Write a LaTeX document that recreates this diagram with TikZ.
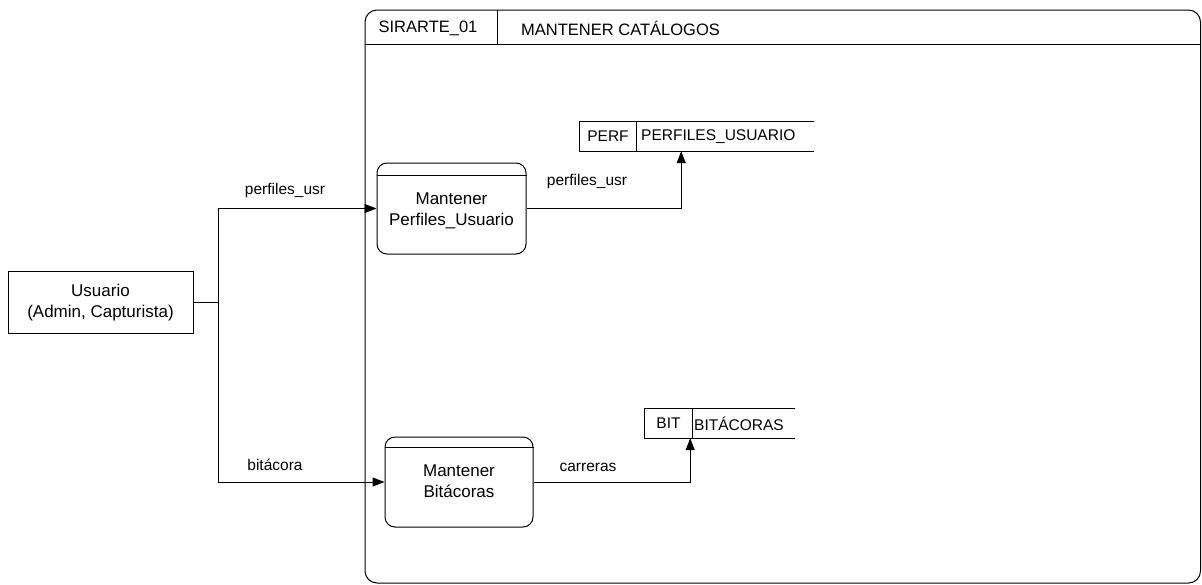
\documentclass[tikz,border=0pt]{standalone}
\usepackage{fontspec}
\setmainfont{Liberation Sans}
\usetikzlibrary{arrows.meta, calc}
\tikzset{
    proc/.style={draw, rounded corners=10pt, line width=1pt, inner sep=0pt},
    boxtxt/.style={align=center, font=\fontsize{17}{21}\selectfont, inner sep=0pt},
    lbl/.style={font=\fontsize{15.5}{18}\selectfont, inner sep=0pt},
    storeid/.style={minimum width=#1, minimum height=29pt, inner sep=0pt,
        font=\fontsize{15.5}{18}\selectfont},
    storename/.style={anchor=west, minimum height=29pt, text width=#1, inner sep=0pt,
        align=left, font=\fontsize{15.5}{18}\selectfont},
    flow/.style={line width=1pt, -{Triangle[length=12pt,width=9pt]}},
    wire/.style={line width=1pt}
}

\begin{document}
\begin{tikzpicture}[
    x={(1pt,0pt)},
    y={(0pt,-1pt)}
]
\useasboundingbox (0,0) rectangle (1202,584);

% --- Rahmen SIRARTE_01 ---
\draw[line width=1pt, rounded corners=12pt] (365,10) rectangle (1200.5,583);
\draw[wire] (365,44) -- (1200.5,44);
\draw[wire] (497,10) -- (497,44);
\node[lbl, font=\fontsize{16.5}{19}\selectfont] (hid) at (428,28) {SIRARTE\_01};
\node[lbl, font=\fontsize{16.5}{19}\selectfont, anchor=west] (htitle) at (521,28) {MANTENER CATÁLOGOS};

% --- Externe Entitaet ---
\node[draw, wire, minimum width=185pt, minimum height=62pt, boxtxt] (usr) at (100.5,302.5)
    {Usuario\\(Admin, Capturista)};

% --- Prozesse ---
\node[proc, minimum width=149pt, minimum height=91pt] (pperf) at (451.5,208.5) {};
\draw[wire] ($(pperf.north west)+(0,13)$) -- ($(pperf.north east)+(0,13)$);
\node[boxtxt] (pperft) at (451.5,211) {Mantener\\Perfiles\_Usuario};

\node[proc, minimum width=148pt, minimum height=90pt] (pbit) at (459,482) {};
\draw[wire] ($(pbit.north west)+(0,11)$) -- ($(pbit.north east)+(0,11)$);
\node[boxtxt] (pbitt) at (459,481) {Mantener\\Bitácoras};

% --- Datenspeicher ---
\node[storeid=56pt] (perfid) at (608,136.5) {PERF};
\node[storename=173pt] (perfname) at (641,136.5) {PERFILES\_USUARIO};
\draw[wire] (perfname.north east |- perfid.north) -- (perfid.north west)
    -- (perfid.south west) -- (perfname.south east |- perfid.south);
\draw[wire] (perfid.north east) -- (perfid.south east);

\node[storeid=47pt] (bitid) at (668.5,423.5) {BIT};
\node[storename=101pt] (bitname) at (694,423.5) {BITÁCORAS};
\draw[wire] (bitname.north east |- bitid.north) -- (bitid.north west)
    -- (bitid.south west) -- (bitname.south east |- bitid.south);
\draw[wire] (bitid.north east) -- (bitid.south east);

% --- Datenfluesse ---
\coordinate (jtop) at (218,208.5);
\coordinate (jbot) at (218,482);
\draw[wire] (usr.east) -- (usr.east -| jtop);
\draw[wire] (jtop) -- (jbot);
\draw[flow] (jtop) -- (pperf.west);
\draw[flow] (jbot) -- (pbit.west);
\node[lbl] (lperf) at (285,190) {perfiles\_usr};
\node[lbl] (lbit) at (275,465) {bitácora};

\draw[flow] (pperf.east) -| ($(perfid.south east)+(45,0)$);
\node[lbl] (lperf2) at (587,181) {perfiles\_usr};

\draw[flow] (pbit.east) -| ($(bitid.south east)+(-2,0)$);
\node[lbl] (lcar) at (588,467) {carreras};

\end{tikzpicture}
\end{document}
